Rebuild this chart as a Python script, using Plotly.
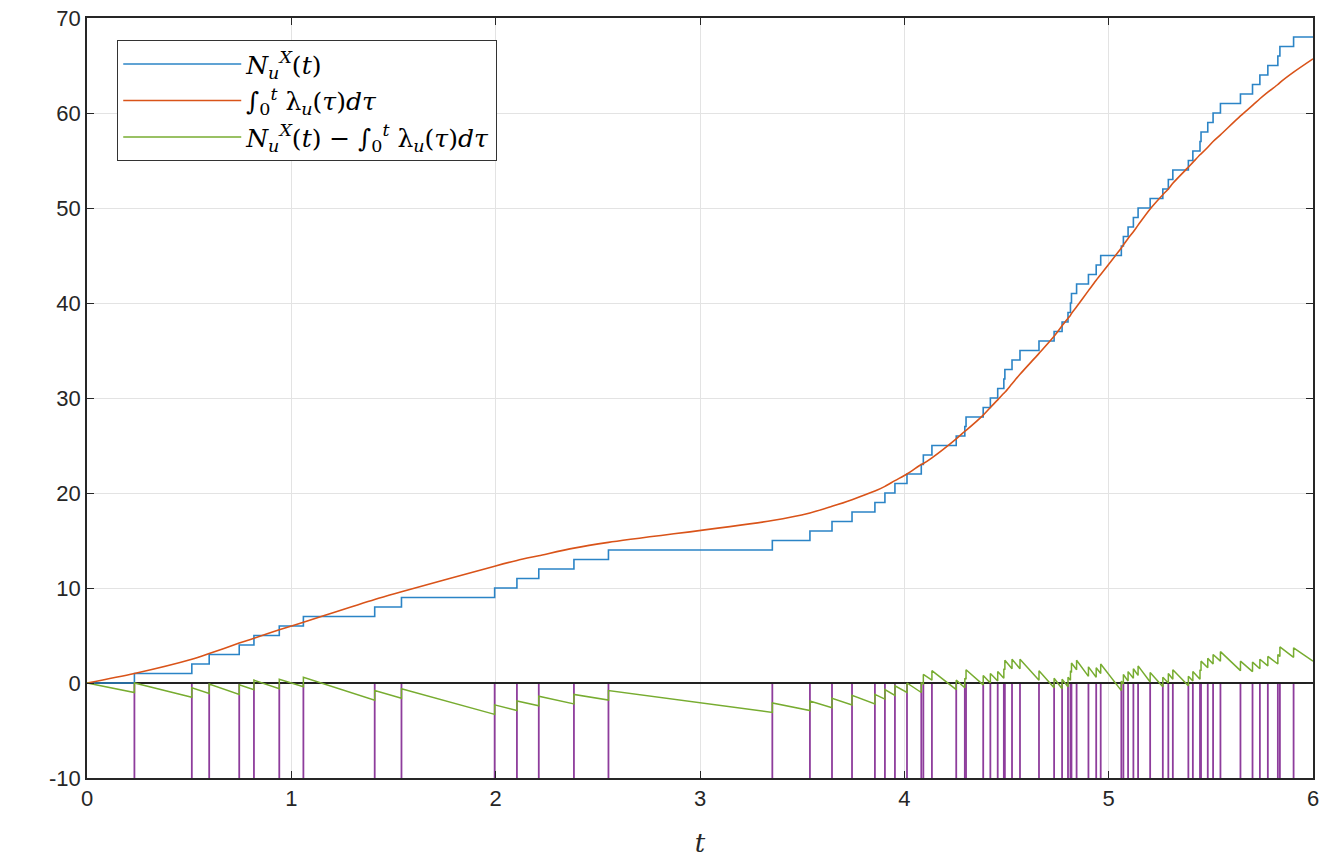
import plotly.graph_objects as go

# ---- data ----
event_times = [
    0.232, 0.513, 0.598, 0.745, 0.817, 0.941,
    1.059, 1.408, 1.539, 1.995,
    2.104, 2.211, 2.383, 2.552,
    3.354, 3.538, 3.646, 3.744, 3.856, 3.905, 3.954,
    4.013, 4.083, 4.093, 4.135, 4.254, 4.296, 4.302, 4.386, 4.421, 4.457,
    4.487, 4.492, 4.527, 4.566, 4.659, 4.733, 4.772, 4.801, 4.813, 4.818,
    4.843, 4.901, 4.939, 4.961,
    5.062, 5.072, 5.095, 5.121, 5.144, 5.203, 5.265, 5.292, 5.314, 5.390,
    5.412, 5.447, 5.452, 5.485, 5.511, 5.547, 5.645, 5.704, 5.740, 5.779,
    5.828, 5.838, 5.905,
]

# integral of lambda, read at each event time
red_at_events = [
    1.0, 2.5, 3.1, 4.2, 4.7, 5.6,
    6.4, 8.8, 9.6, 12.3,
    12.9, 13.4, 14.2, 14.8,
    17.1, 17.9, 18.6, 19.3, 20.2, 20.7, 21.3,
    22.0, 23.0, 23.1, 23.7, 25.7, 26.5, 26.6, 28.2, 29.0, 29.8,
    30.5, 30.6, 31.5, 32.5, 34.7, 36.5, 37.6, 38.4, 38.7, 38.9,
    39.6, 41.3, 42.4, 43.0,
    45.8, 46.1, 46.8, 47.5, 48.2, 49.9, 51.4, 52.0, 52.6, 54.3,
    54.8, 55.6, 55.7, 56.4, 57.0, 57.7, 59.7, 60.8, 61.5, 62.2,
    63.0, 63.2, 64.3,
]
t_start, t_end = 0.0, 6.0
red_start, red_end = 0.0, 65.7

x_ticks = [0, 1, 2, 3, 4, 5, 6]
y_ticks = [-10, 0, 10, 20, 30, 40, 50, 60, 70]

# ---- derived series ----
counts = list(range(1, len(event_times) + 1))
blue_x = [t_start] + event_times + [t_end]
blue_y = [0] + counts + [counts[-1]]

red_x = [t_start] + event_times + [t_end]
red_y = [red_start] + red_at_events + [red_end]

green_x, green_y = [t_start], [0.0]
for i, (t, r) in enumerate(zip(event_times, red_at_events)):
    green_x += [t, t]
    green_y += [i - r, i + 1 - r]
green_x.append(t_end)
green_y.append(counts[-1] - red_end)

stem_x, stem_y = [], []
for t in event_times:
    stem_x += [t, t, None]
    stem_y += [0, -10, None]

BLUE = "#2B84C6"
RED = "#D95319"
GREEN = "#77AC30"
PURPLE = "#8E3D9C"

fig = go.Figure()
fig.add_trace(go.Scatter(x=stem_x, y=stem_y, mode="lines",
                         line=dict(color=PURPLE, width=1.8),
                         showlegend=False, hoverinfo="skip"))
fig.add_trace(go.Scatter(x=[t_start, t_end], y=[0, 0], mode="lines",
                         line=dict(color="#222222", width=2),
                         showlegend=False, hoverinfo="skip"))
fig.add_trace(go.Scatter(x=blue_x, y=blue_y, mode="lines", line_shape="hv",
                         line=dict(color=BLUE, width=1.6), legendgroup="a",
                         name="<i>N</i><sub><i>u</i></sub><sup><i>X</i></sup>(<i>t</i>)"))
fig.add_trace(go.Scatter(x=red_x, y=red_y, mode="lines", line_shape="spline",
                         line=dict(color=RED, width=1.6, smoothing=0.8), legendgroup="b",
                         name="∫<sub>0</sub><sup><i>t</i></sup> λ<sub><i>u</i></sub>(<i>τ</i>)<i>dτ</i>"))
fig.add_trace(go.Scatter(x=green_x, y=green_y, mode="lines",
                         line=dict(color=GREEN, width=1.5), legendgroup="c",
                         name="<i>N</i><sub><i>u</i></sub><sup><i>X</i></sup>(<i>t</i>) − ∫<sub>0</sub><sup><i>t</i></sup> λ<sub><i>u</i></sub>(<i>τ</i>)<i>dτ</i>"))

axis_common = dict(
    showgrid=True, gridcolor="#E3E3E3", gridwidth=1,
    showline=True, linecolor="#262626", linewidth=1.5, mirror="ticks",
    ticks="inside", ticklen=7, tickcolor="#262626",
    zeroline=False,
    tickfont=dict(family="Liberation Sans, Arial, sans-serif", size=22, color="#262626"),
)

fig.update_layout(
    width=1324, height=861,
    margin=dict(l=87, r=5, t=18, b=83),
    paper_bgcolor="white", plot_bgcolor="white",
    xaxis=dict(range=[0, 6], tickvals=x_ticks, ticktext=[str(v) for v in x_ticks],
               title=dict(text="<i>t</i>", standoff=24,
                          font=dict(family="DejaVu Serif, serif", size=26, color="#262626")),
               **axis_common),
    yaxis=dict(range=[-10, 70], tickvals=y_ticks, ticktext=[str(v) for v in y_ticks],
               **axis_common),
    legend=dict(x=0.0245, y=0.971, xanchor="left", yanchor="top",
                bgcolor="white", bordercolor="#333333", borderwidth=1.2,
                font=dict(family="DejaVu Serif, serif", size=25, color="#000000"),
                itemwidth=118, tracegroupgap=1),
    showlegend=True,
)

fig.write_html("out.html")
